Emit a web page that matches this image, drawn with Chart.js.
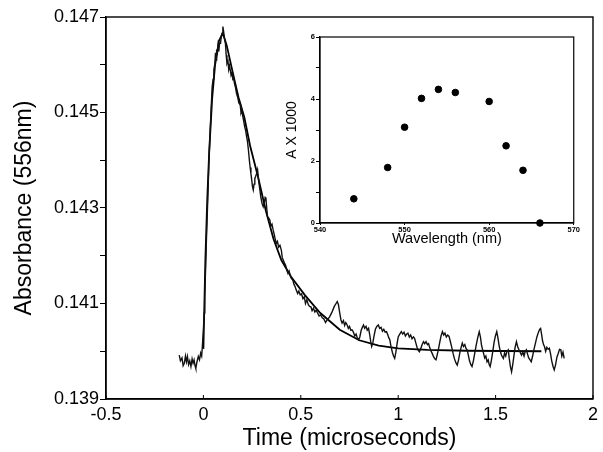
<!DOCTYPE html>
<html lang="en">
<head>
<meta charset="UTF-8">
<title>Transient absorbance at 556 nm</title>
<script src="https://cdn.jsdelivr.net/npm/chart.js"></script>
<style>
  body { margin: 0; background: #fff; }
  #wrap { position: relative; width: 603px; height: 452px; }
  #main { position: absolute; left: 0; top: 0; }
  #inset { position: absolute; left: 270px; top: 26px; }
</style>
</head>
<body>
<div id="wrap">
  <canvas id="main" width="603" height="452"></canvas>
  <canvas id="inset" width="310" height="226"></canvas>
</div>
<script>
// main trace (time in microseconds)
const timeUs = [
  -0.124, -0.118, -0.110, -0.104, -0.098, -0.092, -0.087, -0.082, -0.076, -0.070,
  -0.064, -0.058, -0.053, -0.048, -0.043, -0.039, -0.033, -0.026, -0.020, -0.014,
  -0.009, -0.006, 0.000, 0.004, 0.007, 0.012, 0.017, 0.023, 0.028, 0.035,
  0.040, 0.045, 0.050, 0.054, 0.059, 0.062, 0.065, 0.068, 0.071, 0.075,
  0.079, 0.083, 0.088, 0.092, 0.096, 0.100, 0.104, 0.108, 0.113, 0.117,
  0.121, 0.126, 0.130, 0.134, 0.138, 0.142, 0.147, 0.151, 0.155, 0.160,
  0.164, 0.170, 0.176, 0.182, 0.189, 0.193, 0.197, 0.202, 0.206, 0.212,
  0.217, 0.222, 0.226, 0.231, 0.236, 0.240, 0.244, 0.248, 0.252, 0.256,
  0.260, 0.264, 0.268, 0.273, 0.278, 0.283, 0.290, 0.295, 0.301, 0.307,
  0.313, 0.317, 0.321, 0.325, 0.329, 0.335, 0.341, 0.346, 0.352, 0.358,
  0.363, 0.368, 0.374, 0.380, 0.386, 0.393, 0.400, 0.405, 0.411, 0.417,
  0.422, 0.428, 0.434, 0.440, 0.446, 0.452, 0.459, 0.465, 0.471, 0.477,
  0.484, 0.490, 0.497, 0.504, 0.511, 0.518, 0.524, 0.531, 0.538, 0.545,
  0.552, 0.558, 0.565, 0.572, 0.579, 0.586, 0.594, 0.602, 0.610, 0.618,
  0.627, 0.636, 0.648, 0.660, 0.672, 0.681, 0.687, 0.693, 0.700, 0.706,
  0.712, 0.719, 0.725, 0.731, 0.738, 0.744, 0.750, 0.757, 0.763, 0.770,
  0.777, 0.784, 0.790, 0.797, 0.803, 0.810, 0.816, 0.822, 0.828, 0.835,
  0.841, 0.848, 0.854, 0.859, 0.864, 0.870, 0.876, 0.883, 0.890, 0.898,
  0.905, 0.912, 0.919, 0.926, 0.933, 0.940, 0.947, 0.952, 0.957, 0.963,
  0.970, 0.976, 0.982, 0.988, 0.994, 1.000, 1.008, 1.016, 1.023, 1.030,
  1.037, 1.044, 1.050, 1.057, 1.064, 1.071, 1.078, 1.084, 1.090, 1.097,
  1.103, 1.109, 1.116, 1.123, 1.130, 1.136, 1.143, 1.150, 1.156, 1.160,
  1.167, 1.175, 1.182, 1.188, 1.194, 1.200, 1.207, 1.214, 1.220, 1.227,
  1.234, 1.240, 1.247, 1.254, 1.261, 1.268, 1.275, 1.282, 1.289, 1.296,
  1.303, 1.310, 1.316, 1.323, 1.329, 1.335, 1.342, 1.348, 1.354, 1.360,
  1.366, 1.373, 1.379, 1.386, 1.393, 1.400, 1.408, 1.416, 1.422, 1.428,
  1.433, 1.438, 1.444, 1.450, 1.456, 1.462, 1.467, 1.472, 1.478, 1.485,
  1.492, 1.499, 1.506, 1.512, 1.518, 1.524, 1.530, 1.535, 1.540, 1.546,
  1.552, 1.558, 1.565, 1.570, 1.576, 1.582, 1.588, 1.594, 1.600, 1.607,
  1.613, 1.619, 1.626, 1.633, 1.640, 1.646, 1.652, 1.658, 1.664, 1.670,
  1.677, 1.683, 1.690, 1.697, 1.704, 1.712, 1.720, 1.726, 1.731, 1.736,
  1.741, 1.746, 1.751, 1.757, 1.763, 1.770, 1.776, 1.782, 1.788, 1.795,
  1.801, 1.808, 1.815, 1.822, 1.828, 1.835, 1.840, 1.846, 1.852
];
const absorbance = [
  0.13992, 0.13980, 0.13986, 0.13970, 0.13975, 0.13990, 0.13978, 0.13989, 0.13972, 0.13980,
  0.13968, 0.13984, 0.13975, 0.13982, 0.13970, 0.13964, 0.13978, 0.13989, 0.13982, 0.13996,
  0.13990, 0.14006, 0.14045, 0.14080, 0.14114, 0.14184, 0.14254, 0.14324, 0.14394, 0.14463,
  0.14510, 0.14554, 0.14570, 0.14590, 0.14603, 0.14625, 0.14610, 0.14632, 0.14620, 0.14640,
  0.14628, 0.14645, 0.14645, 0.14660, 0.14666, 0.14680, 0.14669, 0.14655, 0.14645, 0.14620,
  0.14603, 0.14608, 0.14590, 0.14598, 0.14589, 0.14578, 0.14584, 0.14570, 0.14572, 0.14560,
  0.14554, 0.14540, 0.14532, 0.14520, 0.14516, 0.14500, 0.14505, 0.14492, 0.14484, 0.14470,
  0.14462, 0.14449, 0.14440, 0.14422, 0.14400, 0.14385, 0.14372, 0.14359, 0.14345, 0.14338,
  0.14350, 0.14362, 0.14366, 0.14372, 0.14380, 0.14360, 0.14338, 0.14322, 0.14310, 0.14303,
  0.14312, 0.14322, 0.14320, 0.14300, 0.14282, 0.14279, 0.14275, 0.14262, 0.14266, 0.14254,
  0.14246, 0.14236, 0.14226, 0.14230, 0.14218, 0.14222, 0.14212, 0.14196, 0.14190, 0.14184,
  0.14180, 0.14170, 0.14163, 0.14168, 0.14158, 0.14152, 0.14149, 0.14140, 0.14135, 0.14128,
  0.14121, 0.14126, 0.14118, 0.14120, 0.14110, 0.14114, 0.14100, 0.14108, 0.14098, 0.14094,
  0.14093, 0.14085, 0.14090, 0.14082, 0.14086, 0.14080, 0.14074, 0.14076, 0.14070, 0.14068,
  0.14060, 0.14066, 0.14072, 0.14082, 0.14094, 0.14100, 0.14104, 0.14098, 0.14080, 0.14066,
  0.14059, 0.14064, 0.14054, 0.14060, 0.14055, 0.14048, 0.14052, 0.14044, 0.14045, 0.14040,
  0.14032, 0.14036, 0.14028, 0.14024, 0.14030, 0.14044, 0.14050, 0.14055, 0.14048, 0.14052,
  0.14044, 0.14048, 0.14034, 0.14020, 0.14010, 0.14018, 0.14032, 0.14046, 0.14052, 0.14055,
  0.14048, 0.14050, 0.14042, 0.14046, 0.14040, 0.14041, 0.14034, 0.14028, 0.14024, 0.14010,
  0.13998, 0.13990, 0.13985, 0.13998, 0.14015, 0.14030, 0.14036, 0.14041, 0.14036, 0.14040,
  0.14032, 0.14036, 0.14038, 0.14030, 0.14034, 0.14026, 0.14030, 0.14027, 0.14018, 0.14008,
  0.14002, 0.13999, 0.14006, 0.14014, 0.14020, 0.14016, 0.14020, 0.14014, 0.14016, 0.14010,
  0.14002, 0.13995, 0.13988, 0.13984, 0.13982, 0.13992, 0.14005, 0.14020, 0.14032, 0.14041,
  0.14034, 0.14038, 0.14030, 0.14034, 0.14031, 0.14020, 0.14008, 0.13995, 0.13984, 0.13976,
  0.13971, 0.13982, 0.13996, 0.14008, 0.14017, 0.14010, 0.14014, 0.14006, 0.14003, 0.13992,
  0.13980, 0.13972, 0.13968, 0.13980, 0.13996, 0.14012, 0.14028, 0.14041, 0.14030, 0.14012,
  0.14004, 0.13996, 0.13986, 0.13990, 0.13978, 0.13982, 0.13972, 0.13968, 0.13980, 0.13998,
  0.14018, 0.14032, 0.14041, 0.14028, 0.14012, 0.14000, 0.13992, 0.13988, 0.13985, 0.13996,
  0.13990, 0.14000, 0.14003, 0.13985, 0.13968, 0.13957, 0.13972, 0.13990, 0.14008, 0.14020,
  0.14010, 0.14004, 0.13998, 0.13992, 0.13998, 0.13990, 0.14000, 0.14003, 0.13994, 0.13986,
  0.13982, 0.13978, 0.13990, 0.14004, 0.14016, 0.14030, 0.14040, 0.14046, 0.14048, 0.14036,
  0.14022, 0.14014, 0.14010, 0.14000, 0.14008, 0.14004, 0.14006, 0.13995, 0.13980, 0.13968,
  0.13961, 0.13972, 0.13988, 0.13996, 0.14004, 0.14003, 0.13990, 0.13998, 0.13985
];

// fitted curve
const fitTime = [0.000, 0.010, 0.020, 0.030, 0.045, 0.060, 0.080, 0.100, 0.120, 0.150,
  0.180, 0.210, 0.240, 0.280, 0.320, 0.360, 0.400, 0.450, 0.520, 0.600,
  0.700, 0.800, 0.900, 1.000, 1.150, 1.350, 1.735];
const fitAbs = [0.14005, 0.14190, 0.14320, 0.14420, 0.14530, 0.14600, 0.14650, 0.14666, 0.14640, 0.14585,
  0.14532, 0.14490, 0.14430, 0.14366, 0.14295, 0.14235, 0.14191, 0.14156, 0.14118, 0.14080,
  0.14045, 0.14023, 0.14012, 0.14006, 0.14003, 0.14001, 0.14000];

// inset spectrum
const wavelength = [544, 548, 550, 552, 554, 556, 560, 562, 564, 566];
const deltaA = [0.78, 1.79, 3.09, 4.02, 4.31, 4.21, 3.92, 2.49, 1.70, 0.0];

// tick labels
const xTicks = [-0.5, 0, 0.5, 1, 1.5, 2];
const yTickLabels = ['0.139', '0.141', '0.143', '0.145', '0.147'];
const insetXTicks = [540, 550, 560, 570];
const insetYTickLabels = ['0', '2', '4', '6'];

Chart.defaults.font.family = '"Liberation Sans", Arial, Helvetica, sans-serif';
Chart.defaults.color = '#000';

// box round the plot area, plus inward ticks on the bottom axis
const frame = {
  id: 'frame',
  afterDraw(chart, args, opts) {
    const { ctx, chartArea: a } = chart;
    ctx.save();
    ctx.strokeStyle = '#000';
    ctx.lineWidth = opts.width || 1.3;
    ctx.strokeRect(a.left, a.top, a.right - a.left, a.bottom - a.top);
    if (opts.innerTicks) {
      const xs = chart.scales.x;
      ctx.lineWidth = 1;
      xs.ticks.forEach(t => {
        const px = xs.getPixelForValue(t.value);
        ctx.beginPath();
        ctx.moveTo(px, a.bottom);
        ctx.lineTo(px, a.bottom - opts.innerTicks);
        ctx.stroke();
      });
    }
    ctx.restore();
  }
};

const toPoints = (xs, ys) => xs.map((x, i) => ({ x: x, y: ys[i] }));

new Chart(document.getElementById('main'), {
  type: 'scatter',
  data: {
    datasets: [
      {
        data: toPoints(timeUs, absorbance),
        showLine: true,
        borderColor: '#111',
        borderWidth: 1.4,
        pointRadius: 0,
        tension: 0
      },
      {
        data: toPoints(fitTime, fitAbs),
        showLine: true,
        borderColor: '#000',
        borderWidth: 1.8,
        pointRadius: 0,
        tension: 0
      }
    ]
  },
  options: {
    responsive: false,
    animation: false,
    devicePixelRatio: 1,
    layout: { padding: { top: 17, right: 5, left: 0, bottom: 0 } },
    plugins: {
      legend: { display: false },
      tooltip: { enabled: false },
      frame: { width: 1.4, innerTicks: 4 }
    },
    scales: {
      x: {
        type: 'linear',
        min: -0.5,
        max: 2,
        afterBuildTicks: s => { s.ticks = xTicks.map(v => ({ value: v })); },
        afterFit: s => { s.height = 53; },
        grid: { drawOnChartArea: false, drawTicks: false },
        border: { color: '#000', width: 1.4 },
        ticks: { font: { size: 18 }, padding: 5, maxRotation: 0, callback: v => String(v) },
        title: {
          display: true,
          text: 'Time (microseconds)',
          font: { size: 23 },
          padding: { top: 0, bottom: 0 }
        }
      },
      y: {
        type: 'linear',
        min: 0.139,
        max: 0.147,
        ticks: {
          stepSize: 0.001,
          font: { size: 18 },
          padding: 1,
          callback: v => {
            const s = Number(v).toFixed(3);
            return yTickLabels.includes(s) ? s : '';
          }
        },
        afterFit: s => { s.width = 106; },
        grid: { drawOnChartArea: false, tickLength: 6, color: '#000' },
        border: { color: '#000', width: 1.4 },
        title: {
          display: true,
          text: 'Absorbance (556nm)',
          font: { size: 23 },
          padding: { top: 11, bottom: 0 }
        }
      }
    }
  },
  plugins: [frame]
});

new Chart(document.getElementById('inset'), {
  type: 'scatter',
  data: {
    datasets: [{
      data: toPoints(wavelength, deltaA),
      backgroundColor: '#000',
      borderColor: '#000',
      pointRadius: 3.3,
      pointHoverRadius: 3.3,
      clip: false
    }]
  },
  options: {
    responsive: false,
    animation: false,
    devicePixelRatio: 1,
    layout: { padding: { top: 11, right: 6, left: 0, bottom: 0 } },
    plugins: {
      legend: { display: false },
      tooltip: { enabled: false },
      frame: { width: 1.2 }
    },
    scales: {
      x: {
        type: 'linear',
        min: 540,
        max: 570,
        afterBuildTicks: s => { s.ticks = insetXTicks.map(v => ({ value: v })); },
        afterFit: s => { s.height = 29; },
        grid: { drawOnChartArea: false, tickLength: 2, color: '#000' },
        border: { color: '#000', width: 1.2 },
        ticks: { font: { size: 7.5, weight: 'bold' }, padding: 0, maxRotation: 0 },
        title: {
          display: true,
          text: 'Wavelength (nm)',
          font: { size: 14.5 },
          padding: { top: 0, bottom: 4 }
        }
      },
      y: {
        type: 'linear',
        min: 0,
        max: 6,
        ticks: {
          stepSize: 1,
          font: { size: 7.5, weight: 'bold' },
          padding: 1,
          callback: v => insetYTickLabels.includes(String(v)) ? String(v) : ''
        },
        afterFit: s => { s.width = 50; },
        grid: { drawOnChartArea: false, tickLength: 4, color: '#000' },
        border: { color: '#000', width: 1.2 },
        title: {
          display: true,
          text: 'A X 1000',
          font: { size: 14 },
          padding: { top: 14, bottom: 0 }
        }
      }
    }
  },
  plugins: [frame]
});
</script>
</body>
</html>
